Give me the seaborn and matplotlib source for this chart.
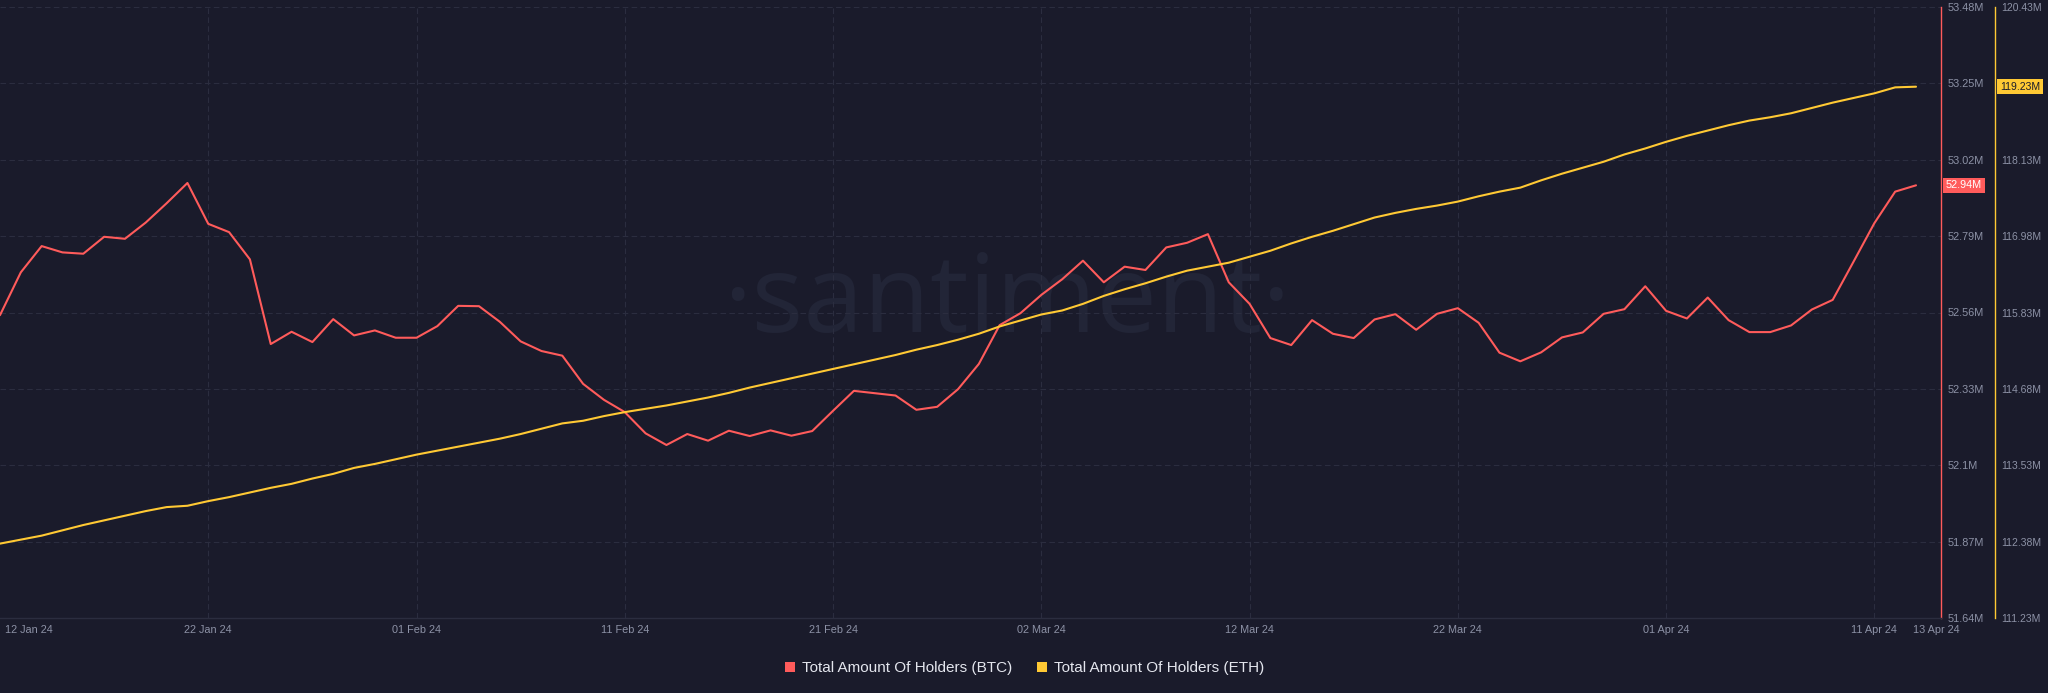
import numpy as np
import pandas as pd
import matplotlib
matplotlib.use("Agg")
import matplotlib.pyplot as plt
import matplotlib.dates as mdates
from matplotlib.transforms import blended_transform_factory, ScaledTranslation
from matplotlib.lines import Line2D
import seaborn as sns

# ---------------- data ----------------
start_date = "2024-01-12"
n_days = 93
btc_holders_m = [
    52.552, 52.681, 52.760, 52.741, 52.737, 52.788, 52.782, 52.831, 52.889, 52.950,
    52.827, 52.802, 52.720, 52.465, 52.502, 52.471, 52.540, 52.491, 52.506, 52.484,
    52.484, 52.519, 52.580, 52.579, 52.532, 52.473, 52.444, 52.430, 52.345, 52.297,
    52.260, 52.196, 52.161, 52.194, 52.174, 52.204, 52.188, 52.205, 52.189, 52.203,
    52.264, 52.324, 52.317, 52.310, 52.267, 52.276, 52.329, 52.405, 52.522, 52.558,
    52.613, 52.660, 52.716, 52.651, 52.698, 52.688, 52.756, 52.770, 52.796, 52.651,
    52.586, 52.483, 52.462, 52.537, 52.496, 52.483, 52.539, 52.555, 52.508, 52.556,
    52.573, 52.529, 52.439, 52.413, 52.440, 52.485, 52.500, 52.556, 52.570, 52.639,
    52.565, 52.542, 52.605, 52.537, 52.501, 52.501, 52.521, 52.569, 52.598, 52.713,
    52.829, 52.924, 52.943,
]
eth_holders_m = [
    112.35, 112.41, 112.47, 112.55, 112.63, 112.70, 112.77, 112.84, 112.90, 112.92,
    112.99, 113.05, 113.12, 113.19, 113.25, 113.33, 113.40, 113.49, 113.55, 113.62,
    113.69, 113.75, 113.81, 113.87, 113.93, 114.00, 114.08, 114.16, 114.20, 114.27,
    114.33, 114.38, 114.43, 114.49, 114.55, 114.62, 114.70, 114.77, 114.84, 114.91,
    114.98, 115.05, 115.12, 115.19, 115.27, 115.34, 115.42, 115.51, 115.62, 115.71,
    115.80, 115.86, 115.96, 116.08, 116.18, 116.27, 116.37, 116.46, 116.52, 116.58,
    116.67, 116.76, 116.87, 116.97, 117.06, 117.16, 117.26, 117.33, 117.39, 117.44,
    117.50, 117.58, 117.65, 117.71, 117.82, 117.92, 118.01, 118.10, 118.21, 118.30,
    118.40, 118.49, 118.57, 118.65, 118.72, 118.77, 118.83, 118.91, 118.99, 119.06,
    119.13, 119.22, 119.23,
]
btc_ticks = [51.64, 51.87, 52.10, 52.33, 52.56, 52.79, 53.02, 53.25, 53.48]
btc_tick_labels = ["51.64M", "51.87M", "52.1M", "52.33M", "52.56M", "52.79M", "53.02M", "53.25M", "53.48M"]
eth_ticks = [111.23, 112.38, 113.53, 114.68, 115.83, 116.98, 118.13, 119.28, 120.43]
eth_tick_labels = ["111.23M", "112.38M", "113.53M", "114.68M", "115.83M", "116.98M", "118.13M", "119.28M", "120.43M"]
x_tick_dates = ["2024-01-12", "2024-01-22", "2024-02-01", "2024-02-11", "2024-02-21",
                "2024-03-02", "2024-03-12", "2024-03-22", "2024-04-01", "2024-04-11", "2024-04-13"]
series_labels = ["Total Amount Of Holders (BTC)", "Total Amount Of Holders (ETH)"]

dates = pd.date_range(start_date, periods=n_days, freq="D")
df = pd.DataFrame({"date": dates, "btc": btc_holders_m, "eth": eth_holders_m})

# ---------------- style ----------------
BG = "#1a1b2b"
GRID = "#2b2d3f"
TICK = "#8d92a6"
RED = "#ff5b5b"
YEL = "#ffc934"
WM = "#222537"

sns.set_theme(style="dark", rc={"axes.facecolor": BG, "figure.facecolor": BG})
plt.rcParams["font.family"] = ["Liberation Sans", "DejaVu Sans"]

fig = plt.figure(figsize=(20.48, 6.93), dpi=100, facecolor=BG)
ax = fig.add_axes([0.0, 75 / 693, 1941 / 2048, 611 / 693])
ax.set_facecolor(BG)
ax2 = ax.twinx()

# watermark
ax.text(0.519, 0.515, "·santiment·", transform=ax.transAxes, ha="center", va="center",
        fontsize=78, color=WM, family=["Open Sans", "DejaVu Sans"], zorder=0)

sns.lineplot(data=df, x="date", y="eth", ax=ax2, color=YEL, linewidth=1.5, zorder=3)
sns.lineplot(data=df, x="date", y="btc", ax=ax, color=RED, linewidth=1.5, zorder=3)

x0 = mdates.date2num(dates[0])
x1 = mdates.date2num(dates[-1]) + 1.2
ax.set_xlim(x0, x1)
ax.set_ylim(btc_ticks[0], btc_ticks[-1])
ax2.set_ylim(eth_ticks[0], eth_ticks[-1])
ax.set_xlabel("")
ax.set_ylabel("")
ax2.set_ylabel("")

# y axes
ax.yaxis.tick_right()
ax.set_yticks(btc_ticks)
ax.set_yticklabels(btc_tick_labels)
ax.tick_params(axis="y", length=0, pad=5, labelsize=7.8, labelcolor=TICK,
               left=False, labelleft=False, right=True, labelright=True)
ax2.set_yticks(eth_ticks)
ax2.set_yticklabels(eth_tick_labels)
ax2.tick_params(axis="y", length=0, pad=4.5, labelsize=7.5, labelcolor=TICK)
ax2.spines["right"].set_position(("axes", 1995 / 1941))

# x axis
xt = [mdates.date2num(pd.Timestamp(d)) for d in x_tick_dates]
ax.set_xticks(xt)
ax.set_xticklabels([pd.Timestamp(d).strftime("%d %b %y") for d in x_tick_dates])
ax.tick_params(axis="x", length=0, pad=5, labelsize=7.8, labelcolor=TICK)
labs = ax.get_xticklabels()
labs[0].set_horizontalalignment("left")
labs[0].set_transform(labs[0].get_transform() + ScaledTranslation(5 / 100, 0, fig.dpi_scale_trans))
labs[-1].set_transform(labs[-1].get_transform() + ScaledTranslation(20 / 100, 0, fig.dpi_scale_trans))

# grid
ax.grid(True, color=GRID, linestyle=(0, (5, 3)), linewidth=0.8)
ax2.grid(False)
gl = ax.xaxis.get_gridlines()
gl[0].set_visible(False)
gl[-1].set_visible(False)

# spines
for s in ["left", "top"]:
    ax.spines[s].set_visible(False)
    ax2.spines[s].set_visible(False)
ax2.spines["bottom"].set_visible(False)
ax.spines["right"].set_color(RED)
ax.spines["right"].set_linewidth(1.0)
ax.spines["bottom"].set_color(GRID)
ax.spines["bottom"].set_linewidth(1.0)
ax2.spines["right"].set_color(YEL)
ax2.spines["right"].set_linewidth(1.0)

# last-value boxes
tb = blended_transform_factory(ax.transAxes, ax.transData)
ax.text(1946 / 1941, btc_holders_m[-1], f"{btc_holders_m[-1]:.2f}M", transform=tb,
        ha="left", va="center", fontsize=7.8, color="white", zorder=10, clip_on=False,
        bbox=dict(boxstyle="square,pad=0.25", facecolor=RED, edgecolor="none"))
te = blended_transform_factory(ax2.transAxes, ax2.transData)
ax2.text(2000 / 1941, eth_holders_m[-1], f"{eth_holders_m[-1]:.2f}M", transform=te,
         ha="left", va="center", fontsize=7.5, color=BG, zorder=10, clip_on=False,
         bbox=dict(boxstyle="square,pad=0.25", facecolor=YEL, edgecolor="none"))

# legend
handles = [Line2D([], [], marker="s", linestyle="none", markersize=7.5,
                  markerfacecolor=c, markeredgewidth=0) for c in (RED, YEL)]
fig.legend(handles, series_labels, loc="center", bbox_to_anchor=(1024 / 2048, 1 - 668 / 693),
           ncol=2, frameon=False, handlelength=0.8, handletextpad=0.35, columnspacing=1.6,
           fontsize=11, labelcolor="#e4e6ee")

fig.savefig("out.png", dpi=100, facecolor=BG)
